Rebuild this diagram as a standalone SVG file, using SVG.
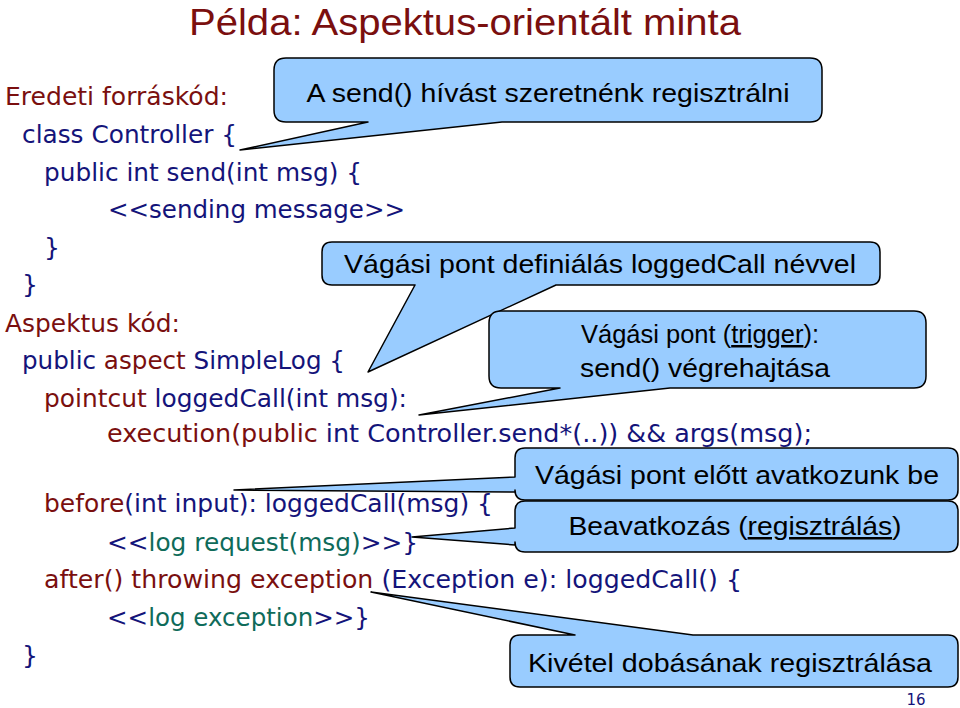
<svg xmlns="http://www.w3.org/2000/svg" width="960" height="708" viewBox="0 0 960 708">
<style>
.code{font-family:"DejaVu Sans",Verdana,sans-serif;font-size:25px;fill:#14147a}
.r{fill:#7a0f0f}
.g{fill:#0f6b5a}
.co{fill:#99ccff;stroke:#000;stroke-width:1.5;stroke-linejoin:round}
.ct{font-family:"Liberation Sans",Arial,sans-serif;font-size:25px;fill:#000;text-anchor:middle}
.u{text-decoration:underline}
</style>
<rect width="960" height="708" fill="#fff"/>
<text x="465" y="35" font-family="Liberation Sans, Arial, sans-serif" font-size="36" fill="#7a0f0f" text-anchor="middle" textLength="552" lengthAdjust="spacingAndGlyphs">Példa: Aspektus-orientált minta</text>
<g id="code">
<text class="code r" x="5" y="105" textLength="223" lengthAdjust="spacingAndGlyphs">Eredeti forráskód:</text>
<text class="code" x="22" y="143" textLength="215" lengthAdjust="spacingAndGlyphs">class Controller {</text>
<text class="code" x="44" y="181" textLength="318" lengthAdjust="spacingAndGlyphs">public int send(int msg) {</text>
<text class="code" x="108" y="218" textLength="297" lengthAdjust="spacingAndGlyphs">&lt;&lt;sending message&gt;&gt;</text>
<text class="code" x="44" y="256">}</text>
<text class="code" x="22" y="293">}</text>
<text class="code r" x="5" y="332" textLength="175" lengthAdjust="spacingAndGlyphs">Aspektus kód:</text>
<text class="code" x="22" y="369" textLength="323" lengthAdjust="spacingAndGlyphs">public <tspan class="r">aspect</tspan> SimpleLog {</text>
<text class="code" x="44" y="407" textLength="363" lengthAdjust="spacingAndGlyphs"><tspan class="r">pointcut</tspan> loggedCall(int msg):</text>
<text class="code" x="107" y="442" textLength="705" lengthAdjust="spacingAndGlyphs"><tspan class="r">execution(public</tspan> int Controller.send*(..)) &amp;&amp; args(msg);</text>
<text class="code" x="44" y="512" textLength="449" lengthAdjust="spacingAndGlyphs"><tspan class="r">before</tspan>(int input): loggedCall(msg) {</text>
<text class="code" x="107" y="551" textLength="311" lengthAdjust="spacingAndGlyphs">&lt;&lt;<tspan class="g">log request(msg)</tspan>&gt;&gt;}</text>
<text class="code" x="44" y="588" textLength="698" lengthAdjust="spacingAndGlyphs"><tspan class="r">after() throwing exception</tspan> (Exception e): loggedCall() {</text>
<text class="code" x="107" y="626" textLength="263" lengthAdjust="spacingAndGlyphs">&lt;&lt;<tspan class="g">log exception</tspan>&gt;&gt;}</text>
<text class="code" x="22" y="664">}</text>
</g>
<g id="callout1">
<path class="co" d="M286,58 H810 Q822,58 822,70 V110 Q822,122 810,122 H502 L240,150 L368,122 H286 Q274,122 274,110 V70 Q274,58 286,58 Z"/>
<text class="ct" x="548" y="102" textLength="483" lengthAdjust="spacingAndGlyphs">A send() hívást szeretnénk regisztrálni</text>
</g>
<g id="callout2">
<path class="co" d="M332,242 H870 Q880,242 880,252 V275 Q880,285 870,285 H556 L368,372 L415,285 H332 Q322,285 322,275 V252 Q322,242 332,242 Z"/>
<text class="ct" x="600" y="273" textLength="512" lengthAdjust="spacingAndGlyphs">Vágási pont definiálás loggedCall névvel</text>
</g>
<g id="callout3">
<path class="co" d="M501,311 H914 Q926,311 926,323 V376 Q926,388 914,388 H670 L419,415 L560,388 H501 Q489,388 489,376 V323 Q489,311 501,311 Z"/>
<text class="ct" x="700" y="343" font-size="24" textLength="238" lengthAdjust="spacingAndGlyphs">Vágási pont (<tspan class="u">trigger</tspan>):</text>
<text class="ct" x="705" y="377" font-size="24" textLength="250" lengthAdjust="spacingAndGlyphs">send() végrehajtása</text>
</g>
<g id="callout4">
<path class="co" d="M525,448 H948 Q958,448 958,458 V490 Q958,500 948,500 H525 Q515,500 515,490 V492 L234,490 L515,477 V458 Q515,448 525,448 Z"/>
<text class="ct" x="737" y="484" textLength="404" lengthAdjust="spacingAndGlyphs">Vágási pont előtt avatkozunk be</text>
</g>
<g id="callout5">
<path class="co" d="M525,501 H948 Q958,501 958,511 V542 Q958,552 948,552 H525 Q515,552 515,542 V545 L412,537 L515,528 V511 Q515,501 525,501 Z"/>
<text class="ct" x="735" y="535" textLength="333" lengthAdjust="spacingAndGlyphs">Beavatkozás (<tspan class="u">regisztrálás</tspan>)</text>
</g>
<g id="callout6">
<path class="co" d="M520,635 H575 L371,592 L693,635 H948 Q958,635 958,645 V677 Q958,687 948,687 H520 Q510,687 510,677 V645 Q510,635 520,635 Z"/>
<text class="ct" x="730" y="672" textLength="404" lengthAdjust="spacingAndGlyphs">Kivétel dobásának regisztrálása</text>
</g>
<text x="916" y="705" font-family="DejaVu Sans, Verdana, sans-serif" font-size="15" fill="#14147a" text-anchor="middle">16</text>
</svg>
